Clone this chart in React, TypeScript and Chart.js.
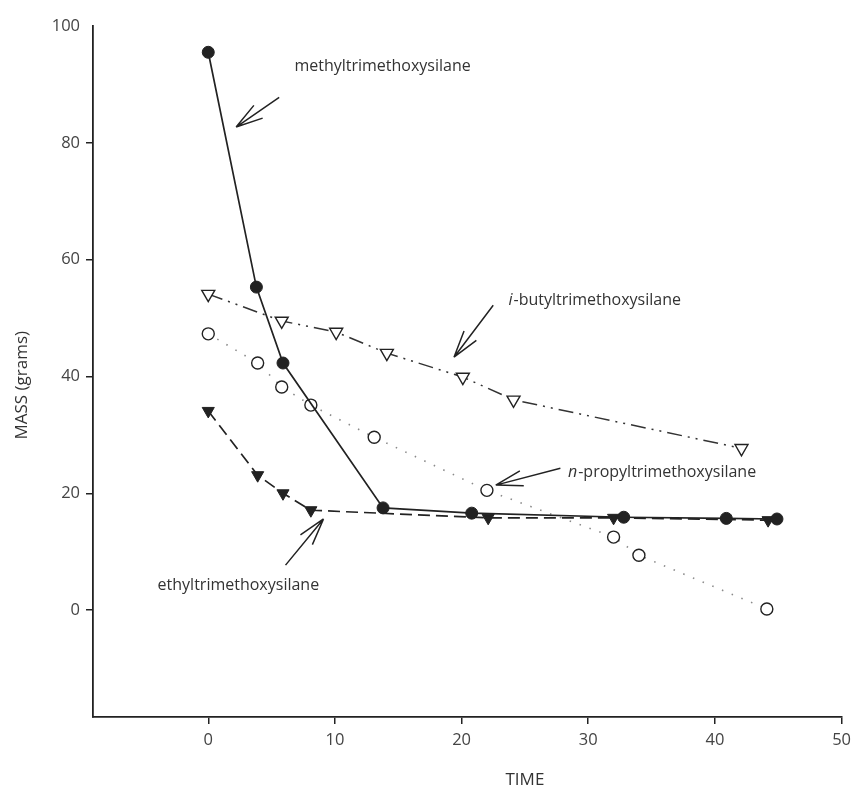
import React, { useEffect, useRef } from "react";
import { Chart, registerables } from "chart.js";

Chart.register(...registerables);

const timeMethyl = [0, 3.8, 5.9, 13.8, 20.8, 32.8, 40.9, 44.9];
const massMethyl = [95.5, 55.3, 42.3, 17.5, 16.6, 15.9, 15.7, 15.6];
const timeEthyl = [0, 3.9, 5.9, 8.1, 22.1, 32, 44.2];
const massEthyl = [34.1, 23.1, 20.0, 17.1, 15.8, 15.8, 15.4];
const timePropyl = [0, 3.9, 5.8, 8.1, 13.1, 22.0, 32.0, 34.0, 44.1];
const massPropyl = [47.3, 42.3, 38.2, 35.1, 29.6, 20.5, 12.5, 9.4, 0.2];
const timeButyl = [0, 5.8, 10.1, 14.1, 20.1, 24.1, 42.1];
const massButyl = [54.1, 49.5, 47.6, 44.0, 39.9, 36.0, 27.7];
const xTicks = [0, 10, 20, 30, 40, 50];
const yTicks = [0, 20, 40, 60, 80, 100];
const xTitle = "TIME";
const yTitle = "MASS (grams)";

const pts = (xs: number[], ys: number[]) => xs.map((x, i) => ({ x, y: ys[i] }));

// annotations in data coordinates
const notes = [
  { italic: "", text: "methyltrimethoxysilane", tx: 6.8, ty: 93.0, ax: 5.6, ay: 87.8, bx: 2.2, by: 82.7 },
  { italic: "i", text: "-butyltrimethoxysilane", tx: 23.7, ty: 53.1, ax: 22.5, ay: 52.2, bx: 19.4, by: 43.3 },
  { italic: "n", text: "-propyltrimethoxysilane", tx: 28.4, ty: 23.6, ax: 27.8, ay: 24.3, bx: 22.7, by: 21.4 },
  { italic: "", text: "ethyltrimethoxysilane", tx: -4.0, ty: 4.3, ax: 6.1, ay: 7.7, bx: 9.1, by: 15.6 },
];

const FONT = "'Open Sans', 'DejaVu Sans', sans-serif";
const INK = "#222";

const annotPlugin = {
  id: "annot",
  afterDraw(chart: any) {
    const { ctx, scales } = chart;
    const xs = scales.x;
    const ys = scales.y;
    ctx.save();
    ctx.fillStyle = "#333";
    ctx.textBaseline = "middle";
    for (const n of notes) {
      let x = xs.getPixelForValue(n.tx);
      const y = ys.getPixelForValue(n.ty);
      ctx.textAlign = "left";
      if (n.italic) {
        ctx.font = `italic 16px ${FONT}`;
        ctx.fillText(n.italic, x, y);
        x += ctx.measureText(n.italic).width + 1;
      }
      ctx.font = `16px ${FONT}`;
      ctx.fillText(n.text, x, y);
      // arrow
      const x1 = xs.getPixelForValue(n.ax), y1 = ys.getPixelForValue(n.ay);
      const x2 = xs.getPixelForValue(n.bx), y2 = ys.getPixelForValue(n.by);
      const ang = Math.atan2(y1 - y2, x1 - x2);
      ctx.strokeStyle = INK;
      ctx.lineWidth = 1.5;
      ctx.beginPath();
      ctx.moveTo(x1, y1);
      ctx.lineTo(x2, y2);
      const L = 28, d = (16 * Math.PI) / 180;
      ctx.moveTo(x2, y2);
      ctx.lineTo(x2 + L * Math.cos(ang + d), y2 + L * Math.sin(ang + d));
      ctx.moveTo(x2, y2);
      ctx.lineTo(x2 + L * Math.cos(ang - d), y2 + L * Math.sin(ang - d));
      ctx.stroke();
    }
    // axis titles
    ctx.font = `17px ${FONT}`;
    ctx.fillStyle = "#333";
    ctx.textAlign = "center";
    ctx.fillText(xTitle, xs.getPixelForValue(25), 780);
    ctx.translate(22, ys.getPixelForValue(38.5));
    ctx.rotate(-Math.PI / 2);
    ctx.fillText(yTitle, 0, 0);
    ctx.restore();
  },
};

export default function App() {
  const ref = useRef<HTMLCanvasElement | null>(null);
  useEffect(() => {
    document.body.style.margin = "0";
    const canvas = ref.current!;
    const chart = new Chart(canvas, {
      type: "scatter",
      data: {
        datasets: [
          {
            label: "methyltrimethoxysilane",
            data: pts(timeMethyl, massMethyl),
            showLine: true,
            borderColor: INK,
            borderWidth: 1.7,
            pointStyle: "circle",
            pointRadius: 6,
            pointBackgroundColor: INK,
            pointBorderColor: INK,
            pointBorderWidth: 1,
          },
          {
            label: "ethyltrimethoxysilane",
            data: pts(timeEthyl, massEthyl),
            showLine: true,
            borderColor: INK,
            borderWidth: 1.7,
            borderDash: [12, 6],
            pointStyle: "triangle",
            pointRotation: 180,
            pointRadius: 7,
            pointBackgroundColor: INK,
            pointBorderColor: INK,
            pointBorderWidth: 1,
          },
          {
            label: "n-propyltrimethoxysilane",
            data: pts(timePropyl, massPropyl),
            showLine: true,
            borderColor: "#8a8a8a",
            borderWidth: 1.6,
            borderDash: [1.5, 9],
            pointStyle: "circle",
            pointRadius: 6,
            pointBackgroundColor: "#fff",
            pointBorderColor: INK,
            pointBorderWidth: 1.4,
          },
          {
            label: "i-butyltrimethoxysilane",
            data: pts(timeButyl, massButyl),
            showLine: true,
            borderColor: "#333",
            borderWidth: 1.5,
            borderDash: [15, 6, 2, 6, 2, 6],
            pointStyle: "triangle",
            pointRotation: 180,
            pointRadius: 7.5,
            pointBackgroundColor: "#fff",
            pointBorderColor: INK,
            pointBorderWidth: 1.4,
          },
        ],
      },
      options: {
        animation: false,
        responsive: false,
        maintainAspectRatio: false,
        layout: { padding: { top: 26, right: 12, left: 0, bottom: 0 } },
        plugins: { legend: { display: false }, tooltip: { enabled: false } },
        scales: {
          x: {
            type: "linear",
            min: -9.1,
            max: 50,
            afterBuildTicks: (s: any) => {
              s.ticks = xTicks.map((v) => ({ value: v }));
            },
            afterFit: (s: any) => {
              s.height = 73;
            },
            grid: { drawOnChartArea: false, drawTicks: true, tickLength: 7, color: INK, lineWidth: 1.5 },
            border: { display: true, color: INK, width: 1.8 },
            ticks: { color: "#444", font: { family: FONT, size: 16.5 }, padding: 6, maxRotation: 0 },
          },
          y: {
            type: "linear",
            min: -18.3,
            max: 100,
            afterBuildTicks: (s: any) => {
              s.ticks = yTicks.map((v) => ({ value: v }));
            },
            afterFit: (s: any) => {
              s.width = 93;
            },
            grid: {
              drawOnChartArea: false,
              drawTicks: true,
              tickLength: 7,
              color: (c: any) => (c.tick && c.tick.value === 100 ? "rgba(0,0,0,0)" : INK),
              lineWidth: 1.5,
            },
            border: { display: true, color: INK, width: 1.8 },
            ticks: { color: "#444", font: { family: FONT, size: 16.5 }, padding: 6 },
          },
        },
      },
      plugins: [annotPlugin],
    } as any);
    return () => chart.destroy();
  }, []);
  return (
    <div style={{ width: 857, height: 790 }}>
      <canvas ref={ref} width={857} height={790} style={{ display: "block", width: 857, height: 790 }} />
    </div>
  );
}
